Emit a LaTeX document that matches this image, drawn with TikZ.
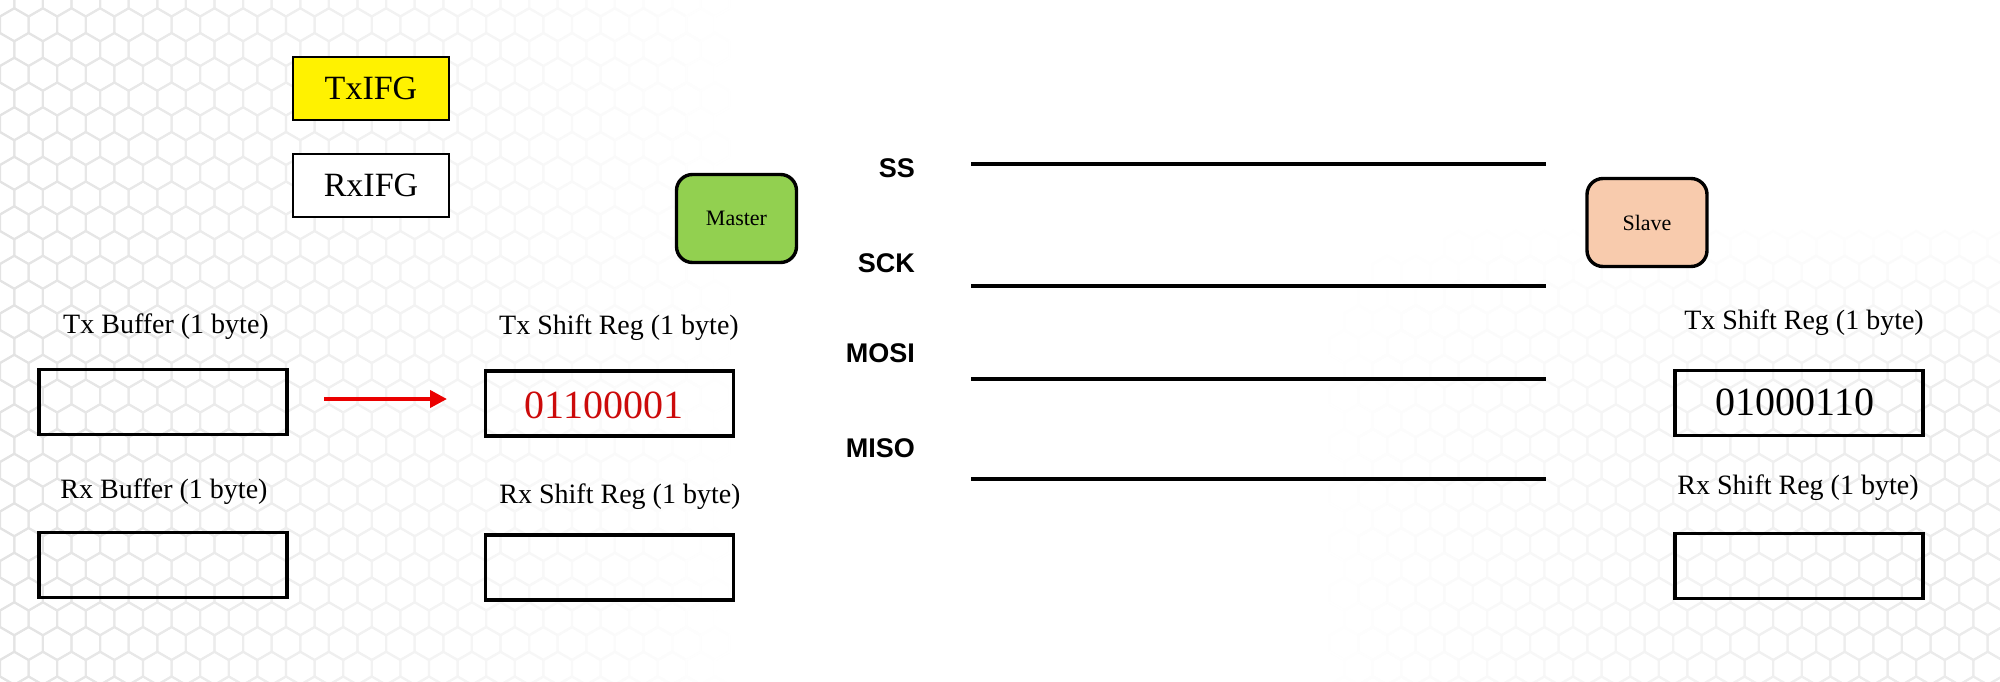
\documentclass[tikz,border=0pt]{standalone}
\usepackage{fontspec}
\setmainfont{Liberation Serif}
\newfontfamily\helvb{Liberation Sans}
\definecolor{mgreen}{RGB}{146,208,80}
\definecolor{speach}{RGB}{248,203,173}
\definecolor{dred}{RGB}{204,10,10}
\definecolor{ared}{RGB}{235,0,0}
\usetikzlibrary{arrows.meta}
\begin{document}
\begin{tikzpicture}[x=1pt,y=-1pt,
  regbox/.style={draw,line width=3.6pt,minimum width=248pt,minimum height=65pt,inner sep=0pt},
  flagbox/.style={draw,line width=2pt,minimum width=156pt,minimum height=63pt,inner sep=0pt,font=\fontsize{34}{40}\selectfont},
  unitbox/.style={draw,line width=3.4pt,rounded corners=16pt,minimum width=120pt,minimum height=88pt,inner sep=0pt,font=\fontsize{22}{26}\selectfont},
  reglabel/.style={font=\fontsize{28}{34}\selectfont,inner sep=0pt},
  bits/.style={font=\fontsize{40}{48}\selectfont,inner sep=0pt},
  sig/.style={font=\helvb\bfseries\fontsize{27}{32}\selectfont,anchor=east,inner sep=0pt},
  wire/.style={line width=3.2pt},
  hexl/.style={line width=2pt}
]
\useasboundingbox (0,0) rectangle (2000,682);
\fill[white] (0,0) rectangle (2000,682);
% background honeycomb (left, fading to the right)
\foreach \j in {0,...,28} {
  \pgfmathsetmacro\off{mod(\j,2)*14.3}
  \foreach \i in {0,...,26} {
    \pgfmathsetmacro\cx{\i*28.6+\off}
    \pgfmathsetmacro\pc{max(0,11*(1-\cx/740))}
    \draw[hexl,draw=black!\pc] (\cx,\j*24.75) +(90:16.5) -- +(150:16.5) -- +(210:16.5) -- +(270:16.5) -- +(330:16.5) -- +(30:16.5) -- cycle;
  }
}
% background honeycomb (right, bottom)
\foreach \j in {10,...,28} {
  \pgfmathsetmacro\off{mod(\j,2)*14.3}
  \foreach \i in {46,...,70} {
    \pgfmathsetmacro\cx{\i*28.6+\off}
    \pgfmathsetmacro\pc{max(0,min(8,8*(\cx-1320)/600)*min(1,(\j-9)/8))}
    \draw[hexl,draw=black!\pc] (\cx,\j*24.75) +(90:16.5) -- +(150:16.5) -- +(210:16.5) -- +(270:16.5) -- +(330:16.5) -- +(30:16.5) -- cycle;
  }
}

% flags
\node[flagbox,fill=yellow] (txifg) at (371,88.5) {TxIFG};
\node[flagbox,fill=white] (rxifg) at (371,185.5) {RxIFG};

% master / slave
\node[unitbox,fill=mgreen] (master) at (736.5,218.5) {Master};
\node[unitbox,fill=speach] (slave) at (1647,222.5) {Slave};

% master registers
\node[reglabel] (txbuflbl) at (166,327) {Tx Buffer (1 byte)};
\node[regbox] (txbuf) at (163,402) {};
\node[reglabel] (rxbuflbl) at (164,492) {Rx Buffer (1 byte)};
\node[regbox] (rxbuf) at (163,565) {};
\node[reglabel] (mtxlbl) at (619,328) {Tx Shift Reg (1 byte)};
\node[regbox] (mtx) at (609.5,403.5) {};
\node[bits,text=dred] (mtxval) at (604,405) {01100001};
\node[reglabel] (mrxlbl) at (620,497) {Rx Shift Reg (1 byte)};
\node[regbox] (mrx) at (609.5,567.5) {};

% slave registers
\node[reglabel] (stxlbl) at (1804,323) {Tx Shift Reg (1 byte)};
\node[regbox] (stx) at (1799,403) {};
\node[bits] (stxval) at (1795,402) {01000110};
\node[reglabel] (srxlbl) at (1798,488) {Rx Shift Reg (1 byte)};
\node[regbox] (srx) at (1799,566) {};

% arrow
\coordinate (arrs) at (324,399);
\coordinate (arre) at (447,399);
\draw[ared,line width=4pt,-{Triangle[length=17pt,width=17pt]}] (arrs) -- (arre);

% bus signals
\node[sig] (ss) at (915,168) {SS};
\node[sig] (sck) at (915,263) {SCK};
\node[sig] (mosi) at (915,353) {MOSI};
\node[sig] (miso) at (915,448) {MISO};
\coordinate (ssa) at (971,164);   \coordinate (ssb) at (1546,164);
\coordinate (scka) at (971,286);  \coordinate (sckb) at (1546,286);
\coordinate (mosia) at (971,379); \coordinate (mosib) at (1546,379);
\coordinate (misoa) at (971,479); \coordinate (misob) at (1546,479);
\draw[wire] (ssa) -- (ssb);
\draw[wire] (scka) -- (sckb);
\draw[wire] (mosia) -- (mosib);
\draw[wire] (misoa) -- (misob);
\end{tikzpicture}
\end{document}
